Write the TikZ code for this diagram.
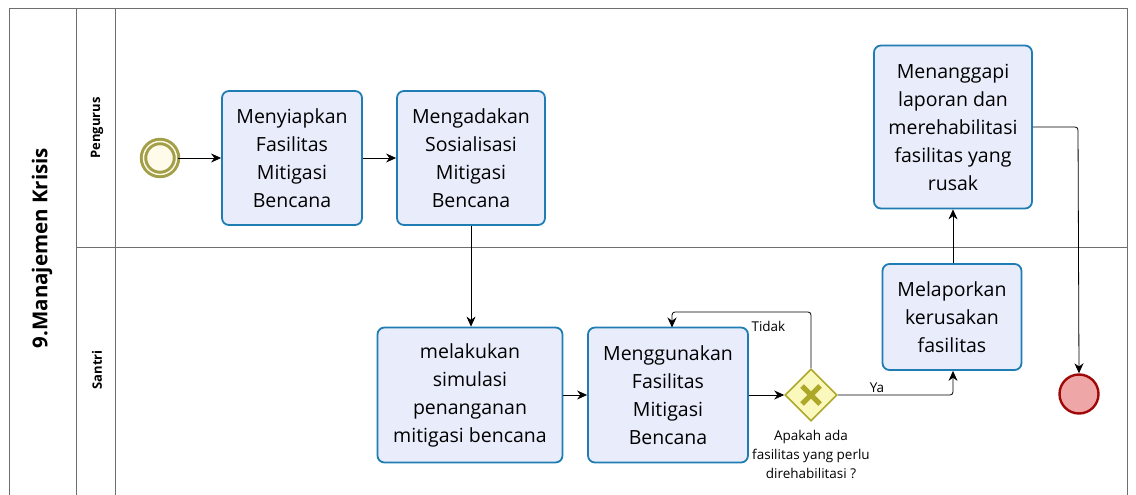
\documentclass[tikz,border=0pt]{standalone}
\usepackage{fontspec}
\setmainfont{Open Sans}
\usepackage{xcolor}
\usetikzlibrary{shapes.geometric,arrows.meta}

\definecolor{taskfill}{HTML}{E9EDFB}
\definecolor{taskline}{HTML}{1F7DB4}
\definecolor{startline}{HTML}{A39F48}
\definecolor{startfill}{HTML}{FFFBEA}
\definecolor{endline}{HTML}{A00808}
\definecolor{endfill}{HTML}{EEA6A6}
\definecolor{gatefill}{HTML}{FBF8BE}
\definecolor{gateline}{HTML}{ADA82A}
\definecolor{poolline}{HTML}{6E6E6E}

\tikzset{
  task/.style={draw=taskline,fill=taskfill,line width=1.8pt,rounded corners=7pt,
    align=center,font=\fontsize{19.5}{28}\selectfont,inner sep=0pt},
  flow/.style={-{Stealth[length=10pt,width=9pt]},line width=0.8pt},
  lanetext/.style={rotate=90,font=\bfseries\fontsize{13}{15}\selectfont},
  small/.style={font=\fontsize{13.5}{19}\selectfont,align=center}
}

\begin{document}
\begin{tikzpicture}[x=1pt,y=-1pt]
\useasboundingbox (0,0) rectangle (1136,495);
% pool and lanes
\draw[poolline,line width=0.6pt] (9,498) -- (9,8) -- (1127,8) -- (1127,498);
\draw[poolline,line width=0.6pt] (76,8) -- (76,498);
\draw[poolline,line width=0.6pt] (115,8) -- (115,498);
\draw[poolline,line width=0.6pt] (76,247) -- (1127,247);
\node[rotate=90,font=\bfseries\fontsize{20.5}{24}\selectfont] (pool) at (42,248) {9.Manajemen Krisis};
\node[lanetext] (pengurus) at (97,128) {Pengurus};
\node[lanetext] (santri) at (97,370) {Santri};

% events and gateway
\node[circle,draw=startline,fill=startfill,line width=3pt,minimum size=33pt,double=startfill,double distance=1.4pt,inner sep=0pt] (mulai) at (160,158) {};
\node[circle,draw=endline,fill=endfill,line width=2.4pt,minimum size=39pt,inner sep=0pt] (selesai) at (1079,394) {};
\node[diamond,draw=gateline,fill=gatefill,line width=1.6pt,minimum size=52pt,inner sep=0pt] (cek) at (811,395) {};
\draw[gateline,line width=5pt] ([shift={(-9,-9)}]cek.center) -- ([shift={(9,9)}]cek.center);
\draw[gateline,line width=5pt] ([shift={(-9,9)}]cek.center) -- ([shift={(9,-9)}]cek.center);
\node[small,anchor=north] (tanya) at (811,427) {Apakah ada\\fasilitas yang perlu\\direhabilitasi ?};

% tasks
\node[task,minimum width=140pt,minimum height=134pt] (siapkan) at (292,158) {Menyiapkan\\Fasilitas\\Mitigasi\\Bencana};
\node[task,minimum width=148pt,minimum height=134pt] (sosialisasi) at (471,158) {Mengadakan\\Sosialisasi\\Mitigasi\\Bencana};
\node[task,minimum width=158pt,minimum height=163pt] (tanggapi) at (953,127) {Menanggapi\\laporan dan\\merehabilitasi\\fasilitas yang\\rusak};
\node[task,minimum width=139pt,minimum height=106pt] (lapor) at (952,317) {Melaporkan\\kerusakan\\fasilitas};
\node[task,minimum width=185pt,minimum height=135pt] (simulasi) at (470,395) {melakukan\\simulasi\\penanganan\\mitigasi bencana};
\node[task,minimum width=160pt,minimum height=135pt] (gunakan) at (668,395) {Menggunakan\\Fasilitas\\Mitigasi\\Bencana};

% sequence flows
\draw[flow] (mulai) -- (siapkan);
\draw[flow] (siapkan) -- (sosialisasi);
\draw[flow] (sosialisasi.south) -- (sosialisasi.south |- simulasi.north);
\draw[flow] (simulasi) -- (gunakan);
\draw[flow] (gunakan) -- (cek);
\draw[flow,rounded corners=3pt] (cek.north) -- (811,312) -- (672,312) -- (672,327.5);
\node[small,anchor=west] (tidak) at (748,326) {Tidak};
\draw[flow,rounded corners=3pt] (cek.east) -- (953,395) -- (lapor.south -| 953,0);
\node[small] (ya) at (877,388) {Ya};
\draw[flow] (lapor.north -| 953,0) -- (tanggapi.south);
\draw[flow,rounded corners=3pt] (tanggapi.east |- 0,127) -- (1078,127) -- (selesai.north);
\end{tikzpicture}
\end{document}
